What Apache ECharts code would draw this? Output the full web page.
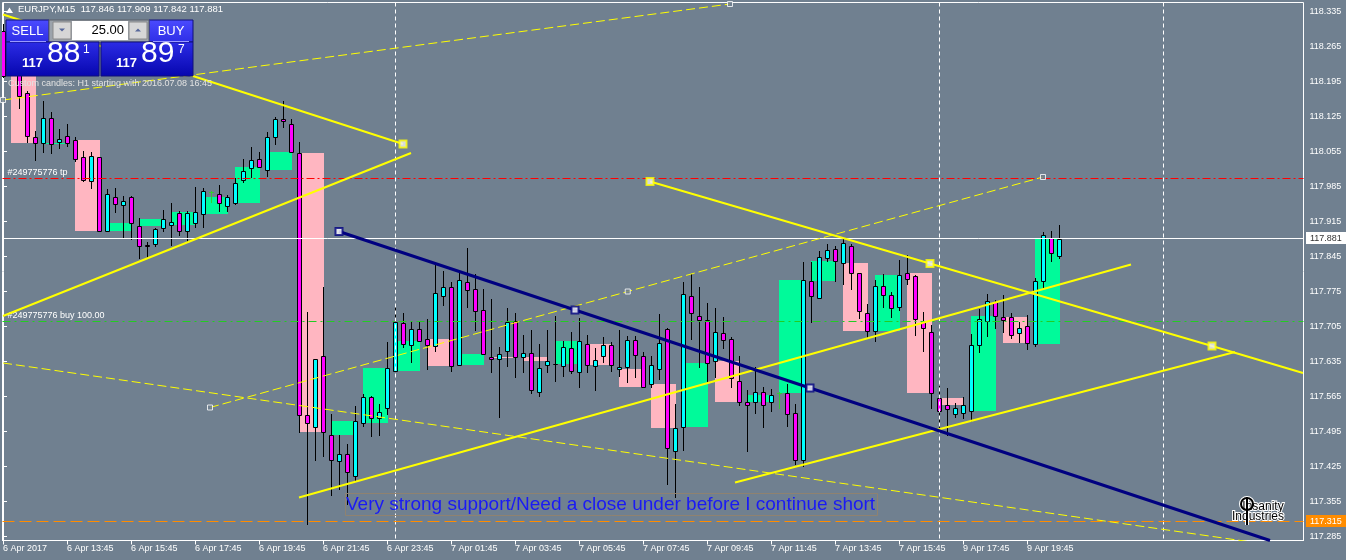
<!DOCTYPE html>
<html><head><meta charset="utf-8">
<script src="https://cdn.jsdelivr.net/npm/echarts@6/dist/echarts.min.js"></script>
<style>html,body{margin:0;padding:0;background:#708090;overflow:hidden}#c{width:1346px;height:560px}</style>
</head><body><div id="c"></div>
<script>
// ---- M15 bars (index = bar number, 8px apart) ----
const opens = [118.297,118.215,118.212,118.173,118.085,118.072,118.122,118.075,118.086,118.078,
118.044,117.996,118.044,117.896,117.964,117.948,117.965,117.907,117.868,117.870,
117.902,117.909,117.932,117.896,117.912,117.930,117.975,117.970,117.947,117.953,
117.999,118.022,118.040,118.018,118.085,118.120,118.110,118.052,117.528,117.504,
117.646,117.488,117.437,117.450,117.406,117.512,117.564,117.522,117.542,117.617,
117.712,117.668,117.700,117.680,117.666,117.767,117.785,117.628,117.795,117.780,
117.738,117.645,117.640,117.657,117.717,117.644,117.652,117.574,117.628,117.630,
117.626,117.662,117.614,117.670,117.626,117.646,117.668,117.621,117.624,117.679,
117.647,117.590,117.620,117.700,117.457,117.504,117.766,117.726,117.718,117.637,
117.692,117.680,117.596,117.555,117.554,117.574,117.554,117.572,117.572,117.532,
117.438,117.796,117.762,117.842,117.860,117.832,117.867,117.812,117.732,117.697,
117.787,117.768,117.744,117.812,117.807,117.714,117.695,117.562,117.548,117.530,
117.532,117.536,117.668,117.716,117.755,117.725,117.725,117.692,117.706,117.670,
117.796,117.882,117.846];
const highs = [118.310,118.250,118.225,118.177,118.097,118.156,118.135,118.100,118.110,118.085,
118.056,118.055,118.045,117.980,117.983,117.967,117.966,117.922,117.875,117.903,
117.939,117.952,117.936,117.936,117.984,117.983,117.977,117.988,117.968,118.002,
118.040,118.064,118.054,118.094,118.124,118.157,118.120,118.075,117.735,117.640,
117.785,117.530,117.488,117.470,117.547,117.570,117.567,117.550,117.674,117.748,
117.732,117.717,117.717,117.720,117.830,117.817,117.794,117.817,117.862,117.810,
117.780,117.760,117.665,117.742,117.732,117.689,117.699,117.670,117.699,117.727,
117.677,117.695,117.722,117.689,117.662,117.684,117.675,117.699,117.687,117.687,
117.654,117.647,117.730,117.702,117.550,117.795,117.810,117.785,117.752,117.742,
117.724,117.685,117.647,117.579,117.624,117.585,117.580,117.574,117.590,117.550,
117.835,117.835,117.857,117.870,117.867,117.880,117.870,117.812,117.750,117.798,
117.810,117.774,117.838,117.848,117.809,117.734,117.708,117.587,117.582,117.552,
117.564,117.690,117.740,117.770,117.759,117.768,117.732,117.715,117.728,117.803,
117.895,117.897,117.909];
const lows = [118.205,118.210,118.143,118.074,118.039,118.054,118.052,118.062,118.067,118.037,
117.997,117.982,117.896,117.896,117.934,117.882,117.881,117.842,117.842,117.866,
117.897,117.868,117.889,117.877,117.904,117.904,117.954,117.937,117.937,117.951,
117.994,118.004,118.024,118.006,118.070,118.104,118.054,117.495,117.310,117.438,
117.447,117.368,117.380,117.350,117.397,117.507,117.486,117.488,117.530,117.617,
117.664,117.634,117.677,117.620,117.657,117.749,117.616,117.628,117.745,117.699,
117.650,117.614,117.524,117.626,117.604,117.615,117.572,117.566,117.615,117.596,
117.606,117.612,117.584,117.614,117.578,117.634,117.617,117.606,117.594,117.604,
117.585,117.584,117.600,117.390,117.364,117.458,117.680,117.624,117.595,117.604,
117.662,117.584,117.548,117.456,117.532,117.504,117.537,117.542,117.506,117.430,
117.427,117.714,117.762,117.837,117.796,117.790,117.780,117.722,117.682,117.676,
117.744,117.724,117.738,117.790,117.688,117.656,117.542,117.497,117.489,117.524,
117.522,117.517,117.654,117.687,117.702,117.695,117.682,117.674,117.660,117.667,
117.782,117.836,117.842];
const closes = [118.207,118.235,118.167,118.086,118.073,118.122,118.070,118.080,118.073,118.040,
117.998,118.046,117.896,117.970,117.950,117.956,117.913,117.866,117.867,117.900,
117.920,117.915,117.896,117.932,117.935,117.977,117.975,117.952,117.964,117.993,
118.017,118.038,118.025,118.085,118.120,118.116,118.054,117.528,117.512,117.640,
117.494,117.438,117.450,117.415,117.517,117.564,117.522,117.534,117.622,117.715,
117.670,117.700,117.677,117.668,117.772,117.784,117.626,117.798,117.778,117.737,
117.650,117.640,117.650,117.715,117.644,117.652,117.578,117.622,117.637,117.631,
117.664,117.616,117.676,117.629,117.638,117.668,117.628,117.625,117.679,117.648,
117.585,117.629,117.672,117.462,117.502,117.770,117.732,117.719,117.632,117.694,
117.679,117.602,117.554,117.548,117.574,117.548,117.569,117.572,117.530,117.438,
117.798,117.766,117.844,117.858,117.837,117.872,117.812,117.737,117.697,117.787,
117.768,117.742,117.809,117.800,117.720,117.702,117.572,117.537,117.540,117.542,
117.548,117.669,117.720,117.757,117.726,117.718,117.688,117.702,117.672,117.797,
117.889,117.852,117.881];

// ---- axes ----
const xTickBars = [0,8,16,24,32,40,48,56,64,72,80,88,96,104,112,120,128];
const xTickLabels = ["6 Apr 2017","6 Apr 13:45","6 Apr 15:45","6 Apr 17:45","6 Apr 19:45","6 Apr 21:45","6 Apr 23:45","7 Apr 01:45","7 Apr 03:45","7 Apr 05:45","7 Apr 07:45","7 Apr 09:45","7 Apr 11:45","7 Apr 13:45","7 Apr 15:45","9 Apr 17:45","9 Apr 19:45"];
const yTickValues = [117.285,117.355,117.425,117.495,117.565,117.635,117.705,117.775,117.845,117.915,117.985,118.055,118.125,118.195,118.265,118.335];
const separatorBars = [49,117,145];

// ---- price levels: tp, buy, stop, bid ----
const levelPrices = [118.000, 117.715, 117.315, 117.881];
const levelTexts = ["#249775776 tp", "#249775776 buy 100.00", "117.315", "117.881"];

// ---- drawn objects: [bar, price] ----
const triUpper = [[0,118.329],[50,118.070]];
const triLower = [[0,117.726],[51,118.052]];
const chanTop = [[0,118.158],[90.875,118.350]];
const chanMid = [[25.875,117.543],[78.09,117.775],[130,118.004]];
const chanLow = [[0,117.632],[156,117.274]];
const navyLine = [[42,117.895],[71.5,117.738],[100.875,117.582],[158.375,117.277]];
const resistLine = [[80.875,117.995],[115.875,117.831],[151.125,117.666],[162.5,117.612]];
const supportLine1 = [[91.5,117.393],[154,117.654]];
const supportLine2 = [[37,117.363],[141,117.829]];
const noteAnchor = [[42.75,117.3724]];
const noteText = "Very strong support/Need a close under before I continue short";

const FONT = '"Liberation Sans", Arial, sans-serif';
const BULL = '#00ffff', BEAR = '#ff00ff', DOJI = '#32cd32';
// style of each level line (tp, buy, stop, bid)
const LEVEL_STYLE = [
  {stroke:'#ff0000', dash:[8,3,2,3], label:'start'},
  {stroke:'#22cc22', dash:[8,4,2,4], label:'start'},
  {stroke:'#ff8c00', dash:[12,5], label:'end', bg:'#ff8c00', color:'#ffffff'},
  {stroke:'#ffffff', dash:null, label:'end', bg:'#ffffff', color:'#333333'}
];

const candleData = opens.map((o,i)=>[i,o,highs[i],lows[i],closes[i]]);
const h1Data = [];
for (let s = 1; s + 3 < opens.length; s += 4) h1Data.push([s, s+3, opens[s], closes[s+3]]);
const levelData = levelPrices.map(p=>[0,p]);
const sepData = separatorBars.map(b=>[b,117.8]);

function renderCandle(params, api){
  const i=api.value(0), o=api.value(1), h=api.value(2), l=api.value(3), c=api.value(4);
  const po=api.coord([i,o]); const cx=Math.round(po[0]);
  const yo=po[1], yc=api.coord([i,c])[1], yh=api.coord([i,h])[1], yl=api.coord([i,l])[1];
  const wx=cx+0.5;
  if (o===c){
    const y=Math.round(yo)+0.5;
    return {type:'group',children:[
      {type:'line',shape:{x1:wx,y1:Math.round(yh),x2:wx,y2:Math.round(yl)+1},style:{stroke:DOJI,lineWidth:1}},
      {type:'line',shape:{x1:cx-2,y1:y,x2:cx+3,y2:y},style:{stroke:DOJI,lineWidth:1}}]};
  }
  const top=Math.round(Math.min(yo,yc)), bot=Math.round(Math.max(yo,yc));
  return {type:'group',children:[
    {type:'line',shape:{x1:wx,y1:Math.round(yh),x2:wx,y2:Math.round(yl)+1},style:{stroke:'#000',lineWidth:1}},
    {type:'rect',shape:{x:cx-1.5,y:top+0.5,width:4,height:Math.max(bot-top,0)},style:{fill:c>o?BULL:BEAR,stroke:'#000',lineWidth:1}}]};
}
function renderH1(params, api){
  const p1=api.coord([api.value(0),api.value(2)]), p2=api.coord([api.value(1),api.value(3)]);
  const x1=Math.round(p1[0]), x2=Math.round(p2[0]);
  const y1=Math.round(Math.min(p1[1],p2[1])), y2=Math.round(Math.max(p1[1],p2[1]));
  return {type:'rect',shape:{x:x1,y:y1,width:x2-x1+1,height:Math.max(y2-y1,1)},
    style:{fill: api.value(3)>api.value(2)?'#00fa9a':'#ffb6c1'}};
}
function renderLevel(params, api){
  const cs=params.coordSys, st=LEVEL_STYLE[params.dataIndex], t=levelTexts[params.dataIndex];
  const y=Math.floor(api.coord([0,api.value(1)])[1]-0.5)+0.5;
  const kids=[{type:'line',shape:{x1:cs.x,y1:y,x2:cs.x+cs.width,y2:y},style:{stroke:st.stroke,lineWidth:1,lineDash:st.dash}}];
  if (st.label==='start'){
    kids.push({type:'text',style:{text:t,x:cs.x+5,y:y-6,font:'9px '+FONT,fill:'#ffffff',align:'left',verticalAlign:'middle',textAlign:'left',textVerticalAlign:'middle'}});
  } else {
    const bx=Math.round(cs.x+cs.width)+2;
    kids.push({type:'rect',shape:{x:bx,y:y-6.5,width:41,height:12},style:{fill:st.bg}});
    kids.push({type:'text',style:{text:t,x:bx+4,y:y,font:'9px '+FONT,fill:st.color,align:'left',verticalAlign:'middle',textAlign:'left',textVerticalAlign:'middle'}});
  }
  return {type:'group',children:kids};
}
function renderSep(params, api){
  const cs=params.coordSys;
  const x=Math.round(api.coord([api.value(0),api.value(1)])[0])+0.5;
  return {type:'line',shape:{x1:x,y1:cs.y,x2:x,y2:cs.y+cs.height},style:{stroke:'#ffffff',lineWidth:1,lineDash:[4,3]}};
}
function renderNote(params, api){
  const p=api.coord([api.value(0),api.value(1)]);
  const x=Math.round(p[0]), y=Math.round(p[1]);
  return {type:'group',children:[
    {type:'rect',shape:{x:x+0.5,y:y+0.5,width:532,height:22},style:{fill:'none',stroke:'#8f8270',lineWidth:1}},
    {type:'text',style:{text:noteText,x:x+1,y:y+12,font:'19px '+FONT,fill:'#1a1af5',align:'left',verticalAlign:'middle',textAlign:'left',textVerticalAlign:'middle'}}]};
}
function trend(data, color, width, type){
  return {type:'line',data:data,showSymbol:false,symbol:'none',silent:true,z:4,animation:false,
    lineStyle:{color:color,width:width,type:type||'solid'}};
}
function anchors(data, border, size, fill, bw){
  return {type:'scatter',data:data,symbol:'rect',symbolSize:size,silent:true,z:6,animation:false,
    itemStyle:{color:fill,borderColor:border,borderWidth:bw}};
}

const chart = echarts.init(document.getElementById('c'));
const txt = (t,x,y,font,fill,align,va,extra)=>({type:'text',silent:true,z:100,style:Object.assign({text:t,x:x,y:y,font:font,fill:fill,
  align:align||'left',verticalAlign:va||'middle',textAlign:align||'left',textVerticalAlign:va||'middle'},extra||{})});
const box = (x,y,w,h,style)=>({type:'rect',silent:true,z:100,shape:{x:x,y:y,width:w,height:h},style:style});
const grad = (a,b)=>new echarts.graphic.LinearGradient(0,0,0,1,[{offset:0,color:a},{offset:1,color:b}]);

chart.setOption({
  animation:false,
  backgroundColor:'#708090',
  grid:{left:2.5,top:2.5,right:42.5,bottom:19.5,show:true,borderColor:'#ffffff',borderWidth:1,containLabel:false},
  xAxis:{type:'value',min:-0.0625,max:162.5625,
    axisLine:{show:true,lineStyle:{color:'#ffffff'}},
    axisTick:{show:true,customValues:xTickBars,length:4,lineStyle:{color:'#ffffff'}},
    axisLabel:{customValues:xTickBars,formatter:v=>xTickLabels[xTickBars.indexOf(v)]||'',
      align:'left',margin:4,color:'#ffffff',fontSize:9,fontFamily:FONT},
    splitLine:{show:false}},
  yAxis:{type:'value',position:'right',min:117.277,max:118.353,scale:true,
    axisLine:{show:true,lineStyle:{color:'#ffffff'}},
    axisTick:{show:true,customValues:yTickValues,length:4,lineStyle:{color:'#ffffff'}},
    axisLabel:{customValues:yTickValues,formatter:v=>v.toFixed(3),margin:6,color:'#ffffff',fontSize:9,fontFamily:FONT},
    splitLine:{show:false}},
  series:[
    {type:'custom',name:'H1',data:h1Data,renderItem:renderH1,encode:{x:[0,1],y:[2,3]},z:1,silent:true,clip:true},
    {type:'custom',name:'M15',data:candleData,renderItem:renderCandle,encode:{x:0,y:[1,2,3,4]},z:2,silent:true,clip:true},
    {type:'custom',name:'separators',data:sepData,renderItem:renderSep,encode:{x:0,y:1},z:3,silent:true},
    {type:'custom',name:'levels',data:levelData,renderItem:renderLevel,encode:{x:0,y:1},z:3,silent:true,clip:false},
    trend(chanTop,'#ffff00',1,[9,4]),
    trend(chanMid,'#ffff00',1,[9,4]),
    trend(chanLow,'#ffff00',1,[9,4]),
    trend(triUpper,'#ffff00',2),
    trend(triLower,'#ffff00',2),
    trend(resistLine,'#ffff00',2),
    trend(supportLine1,'#ffff00',2),
    trend(supportLine2,'#ffff00',2),
    trend(navyLine,'#000080',3),
    anchors([triUpper[1],resistLine[0],resistLine[1],resistLine[2]],'#ffff00',7,'#f0f0f0',2),
    anchors([navyLine[0],navyLine[1],navyLine[2]],'#000080',7,'#ffffff',2),
    anchors([chanTop[0],chanTop[1],chanMid[0],chanMid[1],chanMid[2]],'#ffffff',5,'#708090',1),
    {type:'custom',data:noteAnchor,renderItem:renderNote,encode:{x:0,y:1},z:7,silent:true}
  ],
  graphic:[
    {type:'polygon',silent:true,z:100,shape:{points:[[6,13],[13,13],[9.5,7.5]]},style:{fill:'#ffffff'}},
    txt('EURJPY,M15  117.846 117.909 117.842 117.881',18,9.5,'9.5px '+FONT,'#ffffff'),
    // one-click panel
    box(6,20,43,22,{fill:grad('#4b4bff','#2e2ee6'),stroke:'#10107a',lineWidth:1}),
    box(149,20,44,22,{fill:grad('#4b4bff','#2e2ee6'),stroke:'#10107a',lineWidth:1}),
    box(49,20,100,22,{fill:'#9ca3ab',stroke:'#5a6068',lineWidth:1}),
    box(53,22,18,17,{fill:'#d6d6d6',stroke:'#8a8a8a',lineWidth:1}),
    {type:'polygon',silent:true,z:101,shape:{points:[[59,28.5],[65,28.5],[62,31.5]]},style:{fill:'#56679a'}},
    box(72,21,56,19,{fill:'#ffffff'}),
    txt('25.00',124,30.5,'13px '+FONT,'#000000','right'),
    box(129,22,18,17,{fill:'#d6d6d6',stroke:'#8a8a8a',lineWidth:1}),
    {type:'polygon',silent:true,z:101,shape:{points:[[135,31.5],[141,31.5],[138,28.5]]},style:{fill:'#56679a'}},
    box(6,42,93,34,{fill:grad('#2c2ce6','#0606ae'),stroke:'#10107a',lineWidth:1}),
    box(101,42,92,34,{fill:grad('#2c2ce6','#0606ae'),stroke:'#10107a',lineWidth:1}),
    {type:'line',silent:true,z:101,shape:{x1:10,y1:41.5,x2:46,y2:41.5},style:{stroke:'#9a9aff',lineWidth:1}},
    {type:'line',silent:true,z:101,shape:{x1:153,y1:41.5,x2:189,y2:41.5},style:{stroke:'#9a9aff',lineWidth:1}},
    txt('SELL',27.5,31,'13px '+FONT,'#ffffff','center'),
    txt('BUY',171,31,'13px '+FONT,'#ffffff','center'),
    txt('117',22,70,'bold 13px '+FONT,'#ffffff','left','bottom'),
    txt('88',47,69,'30px '+FONT,'#ffffff','left','bottom'),
    txt('1',83,56,'12px '+FONT,'#ffffff','left','bottom'),
    txt('117',116,70,'bold 13px '+FONT,'#ffffff','left','bottom'),
    txt('89',141,69,'30px '+FONT,'#ffffff','left','bottom'),
    txt('7',178,56,'12px '+FONT,'#ffffff','left','bottom'),
    txt('Custom candles: H1 starting with 2016.07.08 16:45',8,83.5,'9px '+FONT,'#e2e2e2'),
    // logo emblem + words
    {type:'circle',silent:true,z:100,shape:{cx:1247,cy:504,r:6},style:{fill:'none',stroke:'#ffffff',lineWidth:4}},
    {type:'line',silent:true,z:100,shape:{x1:1247,y1:497,x2:1247,y2:525},style:{stroke:'#ffffff',lineWidth:4}},
    {type:'circle',silent:true,z:101,shape:{cx:1247,cy:504,r:6},style:{fill:'none',stroke:'#000000',lineWidth:2}},
    {type:'line',silent:true,z:101,shape:{x1:1247,y1:497,x2:1247,y2:525},style:{stroke:'#000000',lineWidth:2}},
    txt('Insanity',1263,506.5,'12px '+FONT,'#000000','center','middle',{stroke:'#ffffff',lineWidth:2,strokeFirst:true}),
    txt('Industries',1258,516.5,'12px '+FONT,'#000000','center','middle',{stroke:'#ffffff',lineWidth:2,strokeFirst:true})
  ]
});
</script></body></html>
